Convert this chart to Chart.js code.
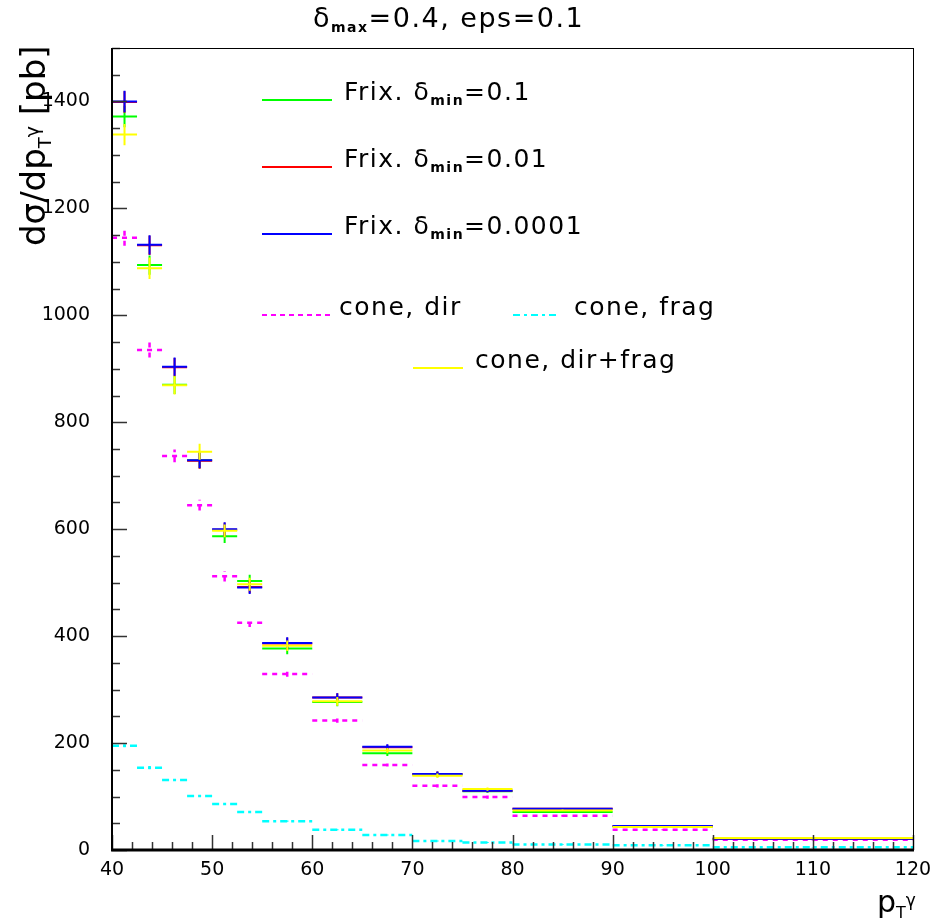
<!DOCTYPE html>
<html>
<head>
<meta charset="utf-8">
<script src="https://cdn.jsdelivr.net/npm/chart.js@4.4.1/dist/chart.umd.min.js"></script>
<style>
  html, body { margin: 0; padding: 0; background: #fff; }
</style>
</head>
<body>
<canvas id="chart" width="937" height="924"></canvas>
<script>
// bin edges in pT (GeV)
const binEdges = [40, 42.5, 45, 47.5, 50, 52.5, 55, 60, 65, 70, 75, 80, 90, 100, 120];

// Frixione, delta_min = 0.1 / 0.01 / 0.0001
const frixMin01 = [1372, 1094, 870, 729, 587, 503, 377, 277, 181, 141, 110, 71, 44, 21];
const frixMin001 = [1399, 1131, 903, 728, 599, 492, 386, 285, 192, 142, 111, 77, 45, 21];
const frixMin00001 = [1400, 1132, 904, 729, 600, 491, 387, 285, 193, 142, 111, 77, 45, 21];
const frixErr = [20, 18, 17, 15, 13, 12, 11, 8, 5, 5, 3, 2, 1.5, 1];

// cone: direct, fragmentation, sum
const coneDir = [1145, 935, 737, 645, 512, 425, 329, 242, 159, 120, 99, 64, 38, 19];
const coneDirErr = [15, 14, 12, 10, 10, 8, 5, 4, 3, 3, 3, 2, 1, 1];
const coneFrag = [195, 154, 131, 101, 86, 71, 54, 38, 28, 17, 14, 10.5, 9, 5];
const coneFragErr = [3, 3, 2, 2, 2, 2, 1, 1, 1, 1, 1, 0.5, 0.5, 0.5];
const coneSum = [1338, 1088, 869, 745, 597, 497, 382, 278, 186, 139, 114, 74, 43, 22.5];
const coneSumErr = [20, 20, 17, 15, 12, 12, 10, 8, 5, 4, 3, 2, 1.5, 1];

const xTicks = [40, 50, 60, 70, 80, 90, 100, 110, 120];
const yTicks = [0, 200, 400, 600, 800, 1000, 1200, 1400];

const FONT = '"DejaVu Sans", sans-serif';

// horizontal bar over each bin + vertical error bar at bin centre
function histPoints(vals, errs) {
	const pts = [];
	vals.forEach((v, i) => {
		const lo = binEdges[i], hi = binEdges[i + 1], c = (lo + hi) / 2;
		pts.push({ x: lo, y: v }, { x: hi, y: v }, { x: hi, y: null });
		pts.push({ x: c, y: v - errs[i] }, { x: c, y: v + errs[i] }, { x: c, y: null });
	});
	return pts;
}

function hist(label, vals, errs, color, order, dash, width) {
	return {
		label,
		data: histPoints(vals, errs),
		borderColor: color,
		borderWidth: width || 2,
		borderDash: dash || [],
		pointRadius: 0,
		fill: false,
		spanGaps: false,
		order,
	};
}

// text with sub / superscripts
function richText(ctx, x, y, parts, spacing) {
	let cx = x;
	ctx.letterSpacing = (spacing || 0) + 'px';
	parts.forEach((p) => {
		ctx.font = (p.bold ? 'bold ' : '') + p.size + 'px ' + FONT;
		ctx.fillText(p.t, cx, y + (p.dy || 0));
		cx += ctx.measureText(p.t).width;
	});
	ctx.letterSpacing = '0px';
	return cx;
}

const framePlugin = {
	id: 'frame',
	afterDraw(chart) {
		const ctx = chart.ctx;
		const { left, right, top, bottom } = chart.chartArea;
		const xs = chart.scales.x, ys = chart.scales.y;
		ctx.save();

		// ticks (inside)
		ctx.strokeStyle = '#333';
		ctx.lineWidth = 1.5;
		ctx.beginPath();
		for (let v = 40; v <= 120; v += 2) {
			const px = Math.round(xs.getPixelForValue(v)) + 0.5;
			const len = v % 10 === 0 ? 15 : 8;
			ctx.moveTo(px, bottom);
			ctx.lineTo(px, bottom - len);
		}
		for (let v = 0; v <= 1500; v += 50) {
			const py = Math.round(ys.getPixelForValue(v)) + 0.5;
			const len = v % 200 === 0 ? 15 : 8;
			ctx.moveTo(left, py);
			ctx.lineTo(left + len, py);
		}
		ctx.stroke();

		// frame
		ctx.strokeStyle = '#000';
		ctx.lineWidth = 1;
		ctx.strokeRect(left + 0.5, top + 0.5, right - left, bottom - top);
		ctx.lineWidth = 2;
		ctx.beginPath();
		ctx.moveTo(left, top);
		ctx.lineTo(left, bottom);
		ctx.stroke();
		ctx.lineWidth = 3;
		ctx.beginPath();
		ctx.moveTo(left - 1, bottom);
		ctx.lineTo(right + 1, bottom);
		ctx.stroke();

		ctx.fillStyle = '#000';
		ctx.textBaseline = 'alphabetic';
		ctx.textAlign = 'left';

		// title
		richText(ctx, 313, 27, [
			{ t: 'δ', size: 27 },
			{ t: 'max', size: 14, dy: 5, bold: true },
			{ t: '=0.4, eps=0.1', size: 27 },
		], 1.5);

		// legend
		const sub = (val) => [{ t: 'Frix. δ', size: 25 }, { t: 'min', size: 14, dy: 5, bold: true }, { t: val, size: 25 }];
		const legend = [
			{ x1: 262, x2: 332, y: 100, color: '#00ff00', dash: [], tx: 344, text: sub('=0.1') },
			{ x1: 262, x2: 332, y: 167, color: '#ff0000', dash: [], tx: 344, text: sub('=0.01') },
			{ x1: 262, x2: 332, y: 234, color: '#0000ff', dash: [], tx: 344, text: sub('=0.0001') },
			{ x1: 262, x2: 332, y: 315, color: '#ff00ff', dash: [5, 4], tx: 339, text: [{ t: 'cone, dir', size: 25 }] },
			{ x1: 513, x2: 559, y: 315, color: '#00ffff', dash: [7, 4, 3, 4], tx: 574, text: [{ t: 'cone, frag', size: 25 }] },
			{ x1: 413, x2: 463, y: 368, color: '#ffff00', dash: [], tx: 475, text: [{ t: 'cone, dir+frag', size: 25 }] },
		];
		legend.forEach((l) => {
			ctx.strokeStyle = l.color;
			ctx.lineWidth = 2;
			ctx.setLineDash(l.dash);
			ctx.beginPath();
			ctx.moveTo(l.x1, l.y);
			ctx.lineTo(l.x2, l.y);
			ctx.stroke();
			ctx.setLineDash([]);
			richText(ctx, l.tx, l.y, l.text, 1.5);
		});

		// axis titles
		richText(ctx, 877, 912, [
			{ t: 'p', size: 30 },
			{ t: 'T', size: 16, dy: 6 },
			{ t: 'γ', size: 17, dy: -6 },
		]);

		ctx.save();
		ctx.translate(45, 246);
		ctx.rotate(-Math.PI / 2);
		richText(ctx, 0, 0, [
			{ t: 'dσ/dp', size: 34 },
			{ t: 'T', size: 18, dy: 6 },
			{ t: 'γ', size: 19, dy: -6 },
			{ t: ' [pb]', size: 34 },
		]);
		ctx.restore();

		ctx.restore();
	},
};

new Chart(document.getElementById('chart'), {
	type: 'line',
	data: {
		datasets: [
			hist('cone, dir+frag', coneSum, coneSumErr, '#ffff00', 0),
			hist('Frix. δmin=0.0001', frixMin00001, frixErr, '#0000ff', 1),
			hist('Frix. δmin=0.01', frixMin001, frixErr, '#ff0000', 2),
			hist('Frix. δmin=0.1', frixMin01, frixErr, '#00ff00', 3),
			hist('cone, dir', coneDir, coneDirErr, '#ff00ff', 4, [5, 5], 2.5),
			hist('cone, frag', coneFrag, coneFragErr, '#00ffff', 5, [7, 4, 3, 4], 2.5),
		],
	},
	options: {
		responsive: false,
		animation: false,
		devicePixelRatio: 1,
		layout: { padding: { top: 48, right: 24, left: 0, bottom: 0 } },
		plugins: { legend: { display: false }, tooltip: { enabled: false } },
		scales: {
			x: {
				type: 'linear',
				min: 40,
				max: 120,
				afterBuildTicks: (s) => { s.ticks = xTicks.map((v) => ({ value: v })); },
				afterFit: (s) => { s.height = 74; },
				grid: { display: false },
				border: { display: false },
				ticks: { color: '#000', padding: 1, maxRotation: 0, font: { family: FONT, size: 19 }, callback: (v) => String(v) },
			},
			y: {
				type: 'linear',
				min: 0,
				max: 1500,
				afterBuildTicks: (s) => { s.ticks = yTicks.map((v) => ({ value: v })); },
				afterFit: (s) => { s.width = 112; },
				grid: { display: false },
				border: { display: false },
				ticks: { color: '#000', padding: 14, font: { family: FONT, size: 19 }, callback: (v) => String(v) },
			},
		},
	},
	plugins: [framePlugin],
});
</script>
</body>
</html>
